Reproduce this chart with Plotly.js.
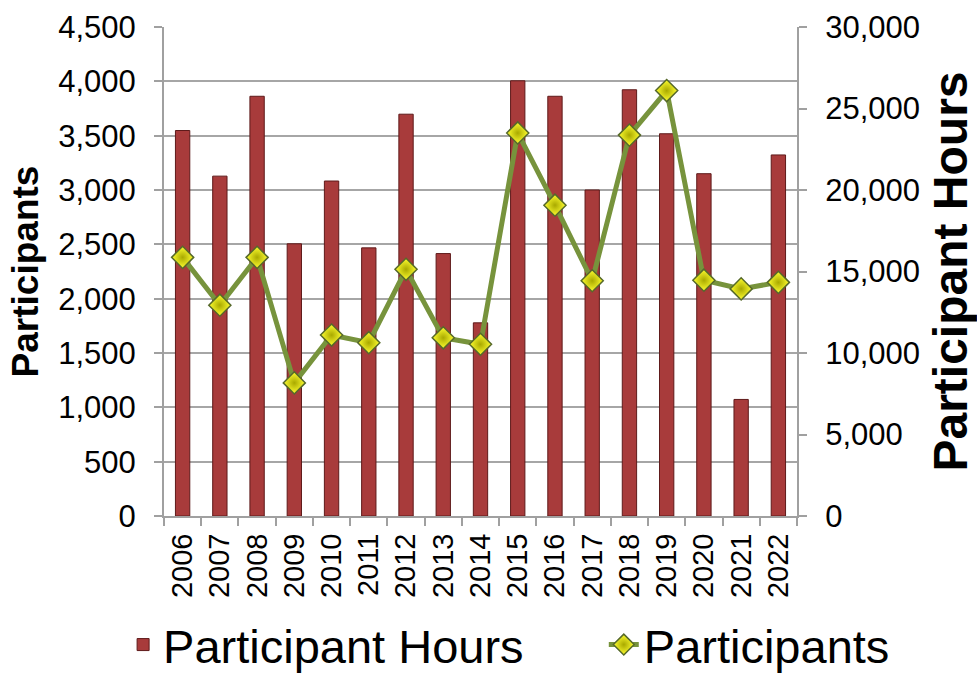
<!DOCTYPE html>
<html>
<head>
<meta charset="utf-8">
<script src="https://cdn.plot.ly/plotly-3.0.1.min.js"></script>
<style>html,body{margin:0;padding:0;background:#fff;}#chart{width:977px;height:674px;}</style>
</head>
<body>
<div id="chart"></div>
<script>
const years = ['2006','2007','2008','2009','2010','2011','2012','2013','2014','2015','2016','2017','2018','2019','2020','2021','2022'];
const participantHours = [23650, 20850, 25750, 16700, 20550, 16450, 24650, 16100, 11850, 26700, 25750, 20000, 26150, 23450, 21000, 7150, 22150];
const participants = [2380, 1940, 2380, 1225, 1665, 1595, 2270, 1640, 1580, 3525, 2860, 2165, 3505, 3915, 2170, 2090, 2150];
const leftTicks = [0, 500, 1000, 1500, 2000, 2500, 3000, 3500, 4000, 4500];
const rightTicks = [0, 5000, 10000, 15000, 20000, 25000, 30000];

const FONT = '"Liberation Sans", Arial, sans-serif';
const fmt = v => v.toLocaleString('en-US');

const traces = [
  {
    type: 'bar', name: 'Participant Hours', x: years, y: participantHours,
    xaxis: 'x', yaxis: 'y', legend: 'legend',
    marker: {color: '#a83b3b', line: {color: '#5e1a1a', width: 1}},
    hoverinfo: 'x+y'
  },
  {
    type: 'scatter', mode: 'lines+markers', name: 'Participants', x: years, y: participants,
    xaxis: 'x', yaxis: 'y2', legend: 'legend2',
    line: {color: '#77933c', width: 5},
    marker: {symbol: 'diamond', size: 17, color: '#ffff30',
             gradient: {type: 'radial', color: '#a9a900'},
             line: {color: '#56692a', width: 1.5}},
    hoverinfo: 'x+y'
  }
];

const legendBase = {
  orientation: 'h', xref: 'container', yref: 'container',
  y: 0.043, xanchor: 'left', yanchor: 'middle',
  font: {size: 47, family: FONT, color: '#000'},
  bgcolor: 'rgba(0,0,0,0)'
};

const layout = {
  width: 977, height: 674,
  margin: {l: 164, r: 180, t: 27, b: 158, pad: 0},
  paper_bgcolor: '#ffffff', plot_bgcolor: '#ffffff',
  font: {family: FONT, color: '#000000'},
  bargap: 0.615,
  showlegend: true,
  legend: Object.assign({}, legendBase, {x: 0.126}),
  legend2: Object.assign({}, legendBase, {x: 0.618}),
  xaxis: {
    type: 'category', range: [-0.5, 16.5], tickangle: -90, tickson: 'boundaries',
    ticks: 'outside', ticklen: 8, tickwidth: 2, tickcolor: '#a0a0a0',
    showline: true, linecolor: '#a0a0a0', linewidth: 2,
    showgrid: false, tickfont: {size: 29, family: FONT, color: '#000'},
    ticklabelstandoff: 4, fixedrange: true
  },
  yaxis: {
    side: 'right', range: [0, 30000], tickvals: rightTicks, ticktext: rightTicks.map(fmt),
    showgrid: false, zeroline: false,
    ticks: 'outside', ticklen: 8, tickwidth: 2, tickcolor: '#a0a0a0',
    showline: true, linecolor: '#a0a0a0', linewidth: 2,
    tickfont: {size: 31, family: FONT, color: '#000'},
    ticklabelstandoff: 12,
    title: {text: 'Participant Hours', font: {size: 48, family: FONT, color: '#000', weight: 'bold'}, standoff: 14},
    automargin: false, fixedrange: true
  },
  yaxis2: {
    side: 'left', overlaying: 'y', range: [0, 4500], tickvals: leftTicks, ticktext: leftTicks.map(fmt),
    showgrid: true, gridcolor: '#a6a6a6', gridwidth: 2, zeroline: false,
    ticks: 'outside', ticklen: 8, tickwidth: 2, tickcolor: '#a0a0a0',
    showline: true, linecolor: '#a0a0a0', linewidth: 2,
    tickfont: {size: 31, family: FONT, color: '#000'},
    ticklabelstandoff: 12,
    title: {text: 'Participants', font: {size: 37, family: FONT, color: '#000', weight: 'bold'}, standoff: 8},
    automargin: false, fixedrange: true
  }
};

Plotly.newPlot('chart', traces, layout, {displayModeBar: false, staticPlot: true});
</script>
</body>
</html>
